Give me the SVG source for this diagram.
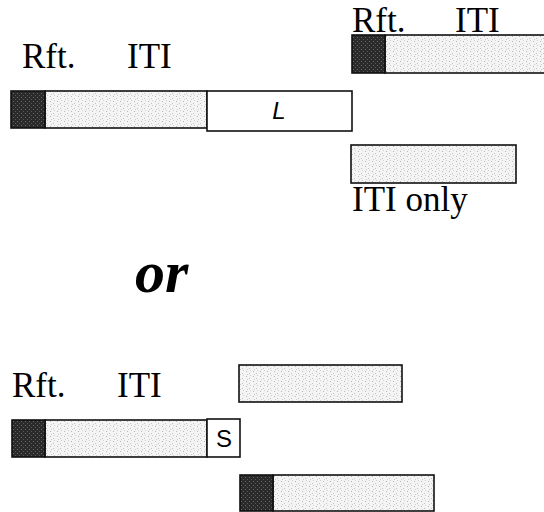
<svg xmlns="http://www.w3.org/2000/svg" width="544" height="512" viewBox="0 0 544 512">
  <defs>
    <pattern id="lt" width="7" height="5" patternUnits="userSpaceOnUse">
      <rect width="7" height="5" fill="#f4f4f4"/>
      <rect x="1" y="1" width="1" height="1" fill="#b8b8b8"/>
      <rect x="4" y="3" width="1" height="1" fill="#c4c4c4"/>
      <rect x="5" y="0" width="1" height="1" fill="#d0d0d0"/>
      <rect x="2" y="4" width="1" height="1" fill="#cccccc"/>
    </pattern>
    <pattern id="dk" width="4" height="4" patternUnits="userSpaceOnUse">
      <rect width="4" height="4" fill="#2a2a2a"/>
      <rect x="1" y="1" width="1" height="1" fill="#6a6a6a"/>
      <rect x="3" y="3" width="1" height="1" fill="#5a5a5a"/>
    </pattern>
  </defs>
  <style>
    .lab { font-family: "Liberation Serif", "Times New Roman", serif; font-size: 35px; fill: #000; }
    .or { font-family: "Liberation Serif", "Times New Roman", serif; font-size: 60px; font-weight: bold; font-style: italic; fill: #000; }
    .sl { font-family: "Liberation Sans", Arial, sans-serif; font-size: 24px; fill: #000; text-anchor: middle; }
    .lt { fill: url(#lt); stroke: #111; stroke-width: 1.6; }
    .dk { fill: url(#dk); stroke: #111; stroke-width: 1.6; }
    .wb { fill: #fff; stroke: #111; stroke-width: 1.6; }
  </style>
  <rect width="544" height="512" fill="#fff"/>

  <g id="top-left">
    <text class="lab" x="22" y="68">Rft.</text>
    <text class="lab" x="127" y="68">ITI</text>
    <rect class="lt" x="45" y="91" width="162" height="37"/>
    <rect class="dk" x="11" y="91" width="34" height="37"/>
    <rect class="wb" x="207" y="91" width="145" height="40"/>
    <text class="sl" x="279" y="119" font-style="italic">L</text>
  </g>

  <g id="top-right">
    <text class="lab" x="352" y="32">Rft.</text>
    <text class="lab" x="455" y="32">ITI</text>
    <rect class="lt" x="385" y="35" width="165" height="38"/>
    <rect class="dk" x="352" y="35" width="33" height="38"/>
  </g>

  <g id="iti-only">
    <rect class="lt" x="351" y="145" width="165" height="38"/>
    <text class="lab" x="352" y="211">ITI only</text>
  </g>

  <g id="or">
    <text class="or" x="135" y="292">or</text>
  </g>

  <g id="bottom-left">
    <text class="lab" x="12" y="397">Rft.</text>
    <text class="lab" x="117" y="397">ITI</text>
    <rect class="lt" x="45" y="420" width="162" height="37"/>
    <rect class="dk" x="12" y="420" width="33" height="37"/>
    <rect class="wb" x="207" y="419" width="33" height="38"/>
    <text class="sl" x="224" y="447">S</text>
  </g>

  <g id="bottom-iti">
    <rect class="lt" x="239" y="365" width="163" height="37"/>
  </g>

  <g id="bottom-rft-iti">
    <rect class="lt" x="273" y="475" width="161" height="36"/>
    <rect class="dk" x="240" y="475" width="33" height="36"/>
  </g>
</svg>
